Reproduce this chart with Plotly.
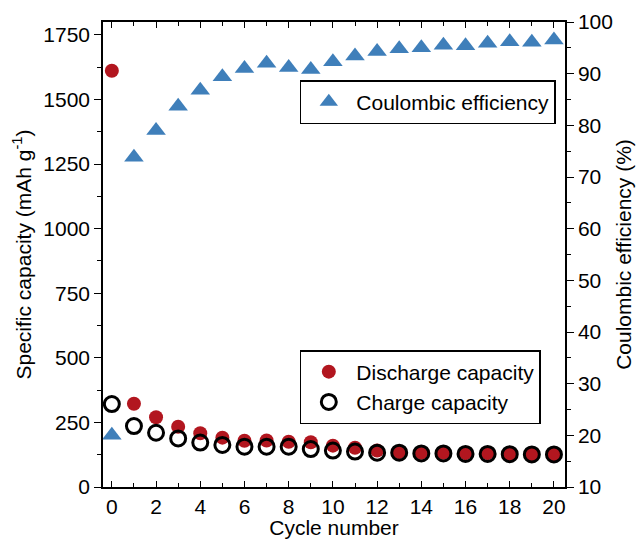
import plotly.graph_objects as go

cycles = list(range(21))
discharge = [1611, 322, 270, 233, 208, 191, 179, 180, 175, 173, 160, 152, 141, 135, 133, 133, 131, 131, 128, 127, 127]
charge = [321, 236, 210, 188, 172, 163, 156, 156, 156, 147, 141, 137, 133, 133, 130, 130, 128, 128, 127, 126, 126]
ce = [20.0, 73.8, 79.0, 83.7, 86.8, 89.4, 91.0, 92.0, 91.2, 90.8, 92.3, 93.4, 94.3, 94.8, 95.0, 95.5, 95.4, 95.9, 96.2, 96.1, 96.5]

RED = "#B2161F"
BLUE = "#3F7FBA"
FONT = "Liberation Sans, Arial, sans-serif"
FS = 21

fig = go.Figure()
fig.add_trace(go.Scatter(x=cycles, y=discharge, mode="markers", name="Discharge capacity",
                         marker=dict(symbol="circle", size=14, color=RED), legend="legend2"))
fig.add_trace(go.Scatter(x=cycles, y=charge, mode="markers", name="Charge capacity",
                         marker=dict(symbol="circle-open", size=15, color="black", line=dict(width=3)),
                         legend="legend2"))
fig.add_trace(go.Scatter(x=cycles, y=ce, mode="markers", name="Coulombic efficiency", yaxis="y2",
                         marker=dict(symbol="triangle-up", size=17, color=BLUE), legend="legend"))

fig.update_layout(
    width=639, height=539,
    showlegend=True,
    margin=dict(l=103, r=74, t=22, b=52),
    plot_bgcolor="white", paper_bgcolor="white",
    font=dict(family=FONT, size=FS, color="black"),
    xaxis=dict(range=[-0.4, 20.5], tickmode="linear", tick0=0, dtick=2,
               ticks="inside", ticklen=6, tickwidth=1.2, tickcolor="black",
               minor=dict(ticks="inside", dtick=1, ticklen=4, tickcolor="black", tickwidth=1.2),
               showline=True, linecolor="black", linewidth=1.5, mirror="ticks",
               showgrid=False, zeroline=False, tickfont=dict(size=FS), automargin=False,
               title=dict(text="Cycle number", standoff=0, font=dict(size=FS))),
    yaxis=dict(range=[0, 1800], tickmode="linear", tick0=0, dtick=250,
               ticks="outside", ticklen=7, tickwidth=1.2, tickcolor="black",
               minor=dict(ticks="outside", dtick=125, ticklen=4, tickcolor="black", tickwidth=1.2),
               showline=True, linecolor="black", linewidth=1.5,
               showgrid=False, zeroline=False, tickfont=dict(size=FS), automargin=False,
               title=dict(text="Specific capacity (mAh g<sup>-1</sup>)", standoff=6, font=dict(size=FS))),
    yaxis2=dict(range=[10, 100], tickmode="linear", tick0=10, dtick=10, overlaying="y", side="right",
                ticks="outside", ticklen=7, tickwidth=1.2, tickcolor="black",
                minor=dict(ticks="outside", dtick=5, ticklen=4, tickcolor="black", tickwidth=1.2),
                showline=True, linecolor="black", linewidth=1.5,
                showgrid=False, zeroline=False, tickfont=dict(size=FS), automargin=False,
                title=dict(text="Coulombic efficiency (%)", standoff=4, font=dict(size=FS))),
    legend=dict(x=0.426, y=0.875, xanchor="left", yanchor="top", bgcolor="white",
                bordercolor="black", borderwidth=1.5, font=dict(size=FS), itemwidth=45),
    legend2=dict(x=0.426, y=0.2946, xanchor="left", yanchor="top", bgcolor="white",
                 bordercolor="black", borderwidth=1.5, font=dict(size=FS), tracegroupgap=0,
                 itemwidth=45),
)

fig.write_html("out.html")
